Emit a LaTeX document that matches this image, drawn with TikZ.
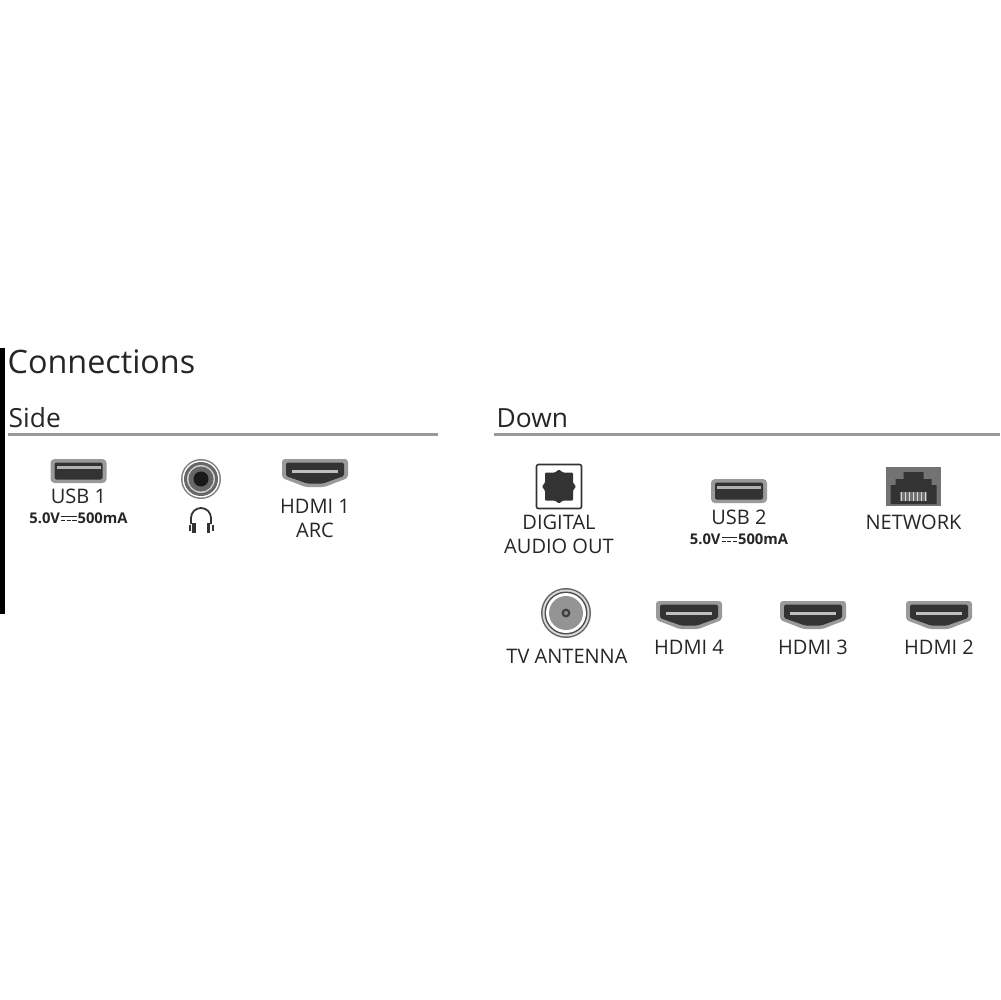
\documentclass[tikz,border=0pt]{standalone}
\usepackage{fontspec}
\setmainfont{Open Sans}
\usetikzlibrary{calc}
\definecolor{txt}{HTML}{262626}
\definecolor{port}{HTML}{333333}
\definecolor{rim}{HTML}{9A9A9A}
\tikzset{
  title/.style={anchor=base west,inner sep=0,text=txt,font=\fontsize{9.2}{11}\selectfont},
  heading/.style={anchor=base west,inner sep=0,text=txt,font=\fontsize{7.5}{9}\selectfont},
  rule/.style={draw=rim,line width=0.22mm},
  lbl/.style={anchor=north,inner sep=0,align=center,text=txt,font=\fontsize{5.7}{6.9}\selectfont},
  rating/.style={anchor=north,inner sep=0,text=txt,font=\fontsize{4.2}{5}\bfseries\selectfont},
  usb/.pic={
    \fill [rim,rounded corners=0.4mm] (-28,-12) rectangle (28,12);
    \fill [port,rounded corners=0.2mm] (-24,-8.5) rectangle (24,8.5);
    \fill [black!30] (-22,-5.5) rectangle (22,-2.5);
  },
  hdmi/.pic={
    \fill [rim,rounded corners=0.3mm] (-33,-14) -- (33,-14) -- (33,5) -- (17,11) -- (10,14) -- (-10,14) -- (-17,11) -- (-33,5) -- cycle;
    \fill [port,rounded corners=0.15mm] (-29,-10.5) -- (29,-10.5) -- (29,3) -- (15,8) -- (8,10.5) -- (-8,10.5) -- (-15,8) -- (-29,3) -- cycle;
    \fill [black!25] (-23,-3) rectangle (23,0);
  }
}
% direct current sign, no family has it
\newcommand{\dcsign}{\kern.3pt\raisebox{1.9pt}{\rlap{\rule{4.4pt}{.3pt}}}\raisebox{.9pt}{\rule{1.2pt}{.3pt}\kern.4pt\rule{1.2pt}{.3pt}\kern.4pt\rule{1.2pt}{.3pt}}\kern.3pt}
\newcommand{\ratingtext}{5.0V\dcsign 500mA}

\begin{document}
\begin{tikzpicture}[x=0.1mm,y=-0.1mm]
    \useasboundingbox (0,0) rectangle (1000,1000);
    \fill [white] (0,0) rectangle (1000,1000);
    \fill [black] (0,348) rectangle (5,614);

    \node [title] (connections) at (7,373) {Connections};
    \node [heading] (side) at (8,427) {Side};
    \node [heading] (down) at (496,427) {Down};
    \coordinate (side_w) at (8,434.5);
    \coordinate (side_e) at (438,434.5);
    \coordinate (down_w) at (494,434.5);
    \coordinate (down_e) at (1000,434.5);
    \draw [rule] (side_w) -- (side_e);
    \draw [rule] (down_w) -- (down_e);

    \coordinate (usb_a) at (78.5,471);
    \coordinate (jack) at (201,479);
    \coordinate (hdmi_a) at (315,473);
    \coordinate (optical) at (559,486.5);
    \coordinate (usb_b) at (739,491);
    \coordinate (rj45) at (913.5,487);
    \coordinate (antenna) at (566,613);
    \coordinate (hdmi_d) at (689,615);
    \coordinate (hdmi_c) at (813,615);
    \coordinate (hdmi_b) at (939,615);

    \pic at (usb_a) {usb};
    \pic at (usb_b) {usb};
    \pic at (hdmi_a) {hdmi};
    \pic at (hdmi_b) {hdmi};
    \pic at (hdmi_c) {hdmi};
    \pic at (hdmi_d) {hdmi};

    % headphone socket
    \begin{scope}[shift={(jack)}]
        \fill [black!50] (0,0) circle [radius=20];
        \fill [white] (0,0) circle [radius=18.5];
        \fill [black!60] (0,0) circle [radius=17];
        \fill [black!20] (0,0) circle [radius=14];
        \fill [black!60] (0,0) circle [radius=12.5];
        \fill [black!90] (0,0) circle [radius=7.5];
    \end{scope}
    % headphones
    \begin{scope}[shift={(201,518)}]
        \draw [port,line width=0.18mm] (-10,6) -- (-10,0) arc [start angle=180,end angle=360,radius=10] -- (10,6);
        \fill [port] (-12.5,7) rectangle (-10.5,13);
        \fill [port] (-9,5) rectangle (-5.5,15);
        \fill [port] (5.5,5) rectangle (9,15);
        \fill [port] (10.5,7) rectangle (12.5,13);
    \end{scope}

    % optical socket
    \begin{scope}[shift={(optical)}]
        \draw [port,line width=0.16mm,rounded corners=0.2mm] (-22.5,-22) rectangle (22.5,22);
        \fill [port,rounded corners=0.1mm] (-14,-14) -- (-4,-14) -- (0,-17) -- (4,-14) -- (14,-14) -- (14,-4) -- (17,0) -- (14,4) -- (14,14) -- (4,14) -- (0,17) -- (-4,14) -- (-14,14) -- (-14,4) -- (-17,0) -- (-14,-4) -- cycle;
    \end{scope}

    % network socket
    \begin{scope}[shift={(rj45)}]
        \fill [black!55] (-27.5,-20) rectangle (27.5,19);
        \fill [port] (-23,17) -- (-23,-2) -- (-18,-2) -- (-18,-8) -- (-10,-8) -- (-10,-15) -- (10,-15) -- (10,-8) -- (18,-8) -- (18,-2) -- (23,-2) -- (23,17) -- cycle;
        \fill [black!55] (-14,5) rectangle (13,14);
        \foreach \p in {-12,-8,-4,0,4,8,12}
            \draw [black!15,line width=0.1mm] (\p,5) -- (\p,14);
    \end{scope}

    % antenna socket
    \begin{scope}[shift={(antenna)}]
        \fill [black!60] (0,0) circle [radius=25];
        \fill [black!15] (0,0) circle [radius=23.5];
        \fill [black!70] (0,0) circle [radius=21.5];
        \fill [white] (0,0) circle [radius=20];
        \fill [black!42] (0,0) circle [radius=17];
        \fill [black!75] (0,0) circle [radius=4.5];
        \fill [black!45] (0,0) circle [radius=2];
    \end{scope}

    \node [lbl] (usb_a_label) at ($(usb_a)+(0,17)$) {USB 1};
    \node [rating] (usb_a_rating) at ($(usb_a)+(0,41.5)$) {\ratingtext};
    \node [lbl] (hdmi_a_label) at ($(hdmi_a)+(0,25)$) {HDMI 1\\ARC};
    \node [lbl] (optical_label) at ($(optical)+(0,27.5)$) {DIGITAL\\AUDIO OUT};
    \node [lbl] (usb_b_label) at ($(usb_b)+(0,18)$) {USB 2};
    \node [rating] (usb_b_rating) at ($(usb_b)+(0,42.5)$) {\ratingtext};
    \node [lbl] (rj45_label) at ($(rj45)+(0,27)$) {NETWORK};
    \node [lbl] (antenna_label) at ($(antenna)+(1,35)$) {TV ANTENNA};
    \node [lbl] (hdmi_d_label) at ($(hdmi_d)+(0,24)$) {HDMI 4};
    \node [lbl] (hdmi_c_label) at ($(hdmi_c)+(0,24)$) {HDMI 3};
    \node [lbl] (hdmi_b_label) at ($(hdmi_b)+(0,24)$) {HDMI 2};
\end{tikzpicture}
\end{document}
